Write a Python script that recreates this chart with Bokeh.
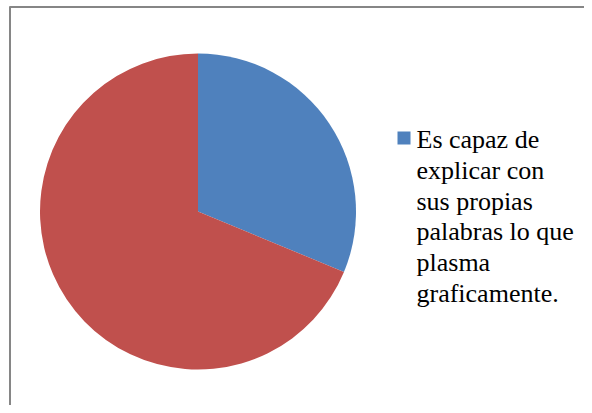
import math
import textwrap
from bokeh.plotting import figure
from bokeh.models import Range1d
from bokeh.core.properties import value
from bokeh.embed import file_html
from bokeh.resources import INLINE

# ---- data ----
categories = ["Es capaz de explicar con sus propias palabras lo que plasma graficamente.", ""]
values = [5, 11]
colors = ["#4F81BD", "#C0504D"]

# ---- layout (screen pixels of the picture) ----
W, H = 584, 405


def sy(y):
    """picture pixel y -> data y"""
    return H - y


p = figure(width=W, height=H, output_backend="svg", toolbar_location=None,
           x_range=Range1d(0, W), y_range=Range1d(0, H),
           min_border=0)
p.axis.visible = False
p.grid.visible = False
p.outline_line_color = None
p.background_fill_color = "white"
p.border_fill_color = "white"

# chart frame (left & top edges visible)
p.line(x=[9.5, 9.5], y=[sy(6), sy(420)], line_color="#868686", line_width=2)
p.line(x=[9, 600], y=[sy(6.5), sy(6.5)], line_color="#868686", line_width=2)

# pie
cx, cy, r = 197.5, sy(211), 158
total = sum(values)
start = math.pi / 2
for v, c in zip(values, colors):
    end = start - 2 * math.pi * v / total
    p.wedge(x=cx, y=cy, radius=r, radius_units="screen",
            start_angle=start, end_angle=end, direction="clock",
            fill_color=c, line_color=None)
    start = end

# legend (only first entry has a label)
lines = textwrap.wrap(categories[0], width=15)
p.rect(x=403.5, y=sy(137.5), width=13, height=13, width_units="screen",
       height_units="screen", fill_color=colors[0], line_color=None)
base0 = 139
p.text(x=[416] * len(lines), y=[sy(base0 + i * 30.8) for i in range(len(lines))],
       text=lines, text_font=value("Liberation Serif"),
       text_font_size="26px",
       text_color="black", text_baseline="alphabetic", text_align="left")

open("out.html", "w").write(file_html(p, INLINE))
